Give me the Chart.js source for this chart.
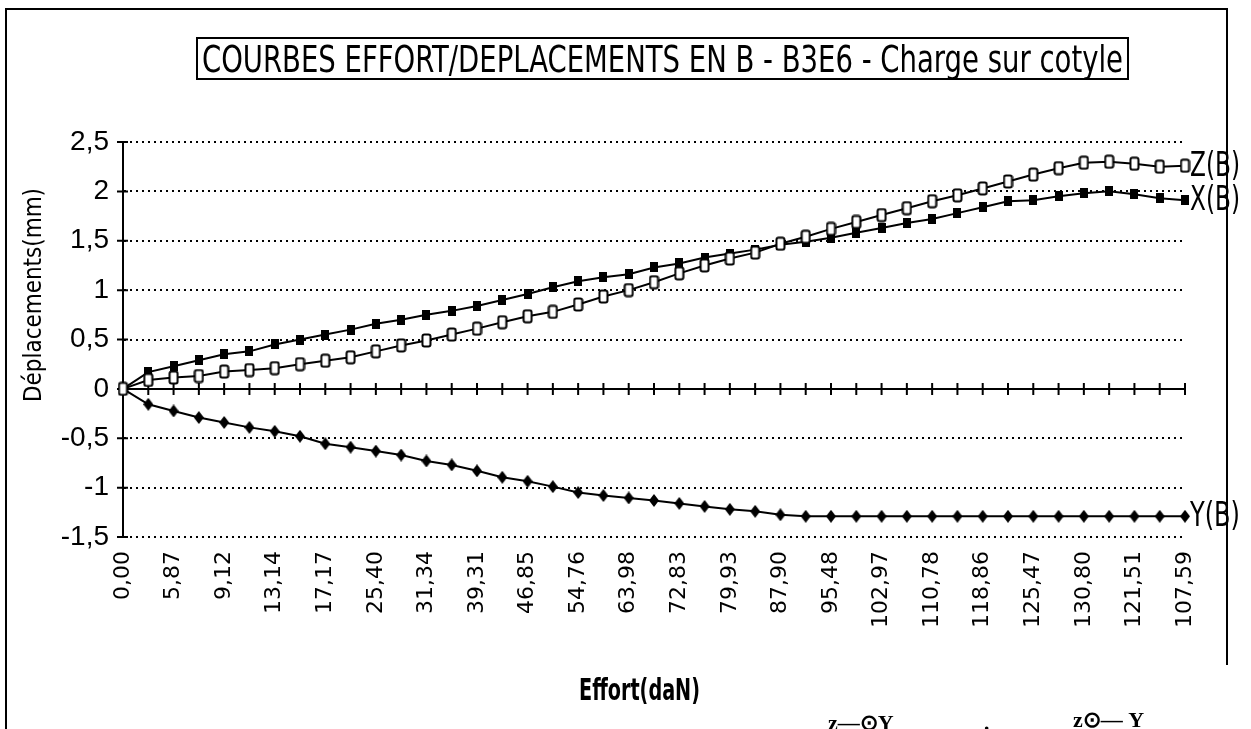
<!DOCTYPE html>
<html>
<head>
<meta charset="utf-8">
<title>Courbes effort/déplacements en B - B3E6</title>
<script src="https://cdn.jsdelivr.net/npm/chart.js@4.4.1/dist/chart.umd.min.js"></script>
<style>
    html, body { margin: 0; padding: 0; background: #fff; }
    #wrap { width: 1251px; height: 729px; }
</style>
</head>
<body>
<div id="wrap"><canvas id="chart" width="1251" height="729"></canvas></div>
<script>
// Effort (daN) - only every other label is printed on the axis
const effortLabels = [
    '0,00', '3,05', '5,87', '7,60', '9,12', '11,20', '13,14', '15,30', '17,17', '21,45',
    '25,40', '28,20', '31,34', '35,60', '39,31', '43,05', '46,85', '50,90', '54,76', '59,50',
    '63,98', '68,30', '72,83', '76,60', '79,93', '83,85', '87,90', '91,70', '95,48', '99,30',
    '102,97', '106,80', '110,78', '114,90', '118,86', '122,10', '125,47', '128,60', '130,80', '127,20',
    '121,51', '114,30', '107,59'
];

// Déplacements (mm)
const zB = [
    0, 0.09, 0.115, 0.13, 0.175, 0.19, 0.21, 0.25, 0.285, 0.32,
    0.38, 0.44, 0.49, 0.55, 0.61, 0.675, 0.735, 0.78, 0.855, 0.935,
    1.00, 1.08, 1.17, 1.25, 1.32, 1.38, 1.47, 1.54, 1.62, 1.69,
    1.76, 1.83, 1.90, 1.96, 2.03, 2.10, 2.17, 2.235, 2.29, 2.30,
    2.28, 2.25, 2.26
];
const xB = [
    0, 0.17, 0.23, 0.29, 0.35, 0.38, 0.45, 0.50, 0.55, 0.60,
    0.66, 0.70, 0.75, 0.79, 0.84, 0.90, 0.96, 1.03, 1.09, 1.13,
    1.16, 1.23, 1.27, 1.33, 1.37, 1.41, 1.46, 1.49, 1.53, 1.58,
    1.63, 1.68, 1.72, 1.78, 1.84, 1.90, 1.91, 1.95, 1.98, 2.00,
    1.97, 1.93, 1.91
];
const yB = [
    0, -0.156, -0.224, -0.29, -0.34, -0.39, -0.43, -0.48, -0.556, -0.59,
    -0.63, -0.67, -0.73, -0.77, -0.83, -0.895, -0.936, -0.99, -1.05, -1.08,
    -1.105, -1.13, -1.16, -1.19, -1.22, -1.24, -1.275, -1.29, -1.29, -1.29,
    -1.29, -1.29, -1.29, -1.29, -1.29, -1.29, -1.29, -1.29, -1.29, -1.29,
    -1.29, -1.29, -1.29
];

const seriesNames = ['Z(B)', 'X(B)', 'Y(B)'];
const yMin = -1.5;
const yMax = 2.5;
const yStep = 0.5;

const chartTitle = 'COURBES EFFORT/DEPLACEMENTS EN B - B3E6 - Charge sur cotyle';
const xTitle = 'Effort(daN)';
const yTitle = 'Déplacements(mm)';

const narrowFont = '"Liberation Sans Narrow", "DejaVu Sans Condensed", "Arial Narrow", sans-serif';

// Marker images (Excel style: open box, filled box, diamond)
function makeMarker(w, h, draw) {
    const c = document.createElement('canvas');
    c.width = w;
    c.height = h;
    draw(c.getContext('2d'), w, h);
    return c;
}

const openBox = makeMarker(11, 15, (g, w, h) => {
    g.fillStyle = '#fff';
    g.strokeStyle = '#000';
    g.lineWidth = 2;
    g.beginPath();
    g.roundRect(1.5, 1.5, w - 3, h - 3, 2);
    g.fill();
    g.stroke();
});

const filledBox = makeMarker(8, 10, (g, w, h) => {
    g.fillStyle = '#000';
    g.fillRect(0, 0, w, h);
});

const diamond = makeMarker(10, 13, (g, w, h) => {
    g.fillStyle = '#000';
    g.beginPath();
    g.moveTo(w / 2, 0);
    g.lineTo(w, h / 2);
    g.lineTo(w / 2, h);
    g.lineTo(0, h / 2);
    g.closePath();
    g.fill();
});

// Draw text squeezed/stretched to a given width
function fitText(ctx, text, x, y, width, font) {
    ctx.save();
    ctx.font = font;
    const w = ctx.measureText(text).width;
    ctx.translate(x, y);
    ctx.scale(width / w, 1);
    ctx.fillText(text, 0, 0);
    ctx.restore();
}

const decorPlugin = {
    id: 'decor',
    beforeDatasetsDraw(chart) {
        const { ctx, chartArea, scales: { x, y } } = chart;
        const y0 = y.getPixelForValue(0);
        ctx.save();
        ctx.strokeStyle = '#000';
        ctx.lineWidth = 2;
        ctx.beginPath();
        // zero line with crossing ticks
        ctx.moveTo(chartArea.left, y0);
        ctx.lineTo(chartArea.right, y0);
        effortLabels.forEach((_, i) => {
            const px = x.getPixelForValue(i);
            ctx.moveTo(px, y0 - 6);
            ctx.lineTo(px, y0 + 6);
        });
        // crossing ticks on value axis
        y.ticks.forEach(t => {
            const py = y.getPixelForValue(t.value);
            ctx.moveTo(chartArea.left - 6, py);
            ctx.lineTo(chartArea.left + 5, py);
        });
        ctx.stroke();
        ctx.restore();
    },
    afterDraw(chart) {
        const { ctx } = chart;
        ctx.save();
        ctx.fillStyle = '#000';
        ctx.strokeStyle = '#000';

        // outer frame (scan cut at bottom)
        ctx.lineWidth = 2;
        ctx.beginPath();
        ctx.moveTo(6, 729);
        ctx.lineTo(6, 9);
        ctx.lineTo(1227, 9);
        ctx.lineTo(1227, 665);
        ctx.stroke();

        // title box
        ctx.strokeRect(197, 38, 931, 41);
        ctx.textBaseline = 'alphabetic';
        ctx.textAlign = 'left';
        fitText(ctx, chartTitle, 202, 72, 921, '38px ' + narrowFont);

        // axis titles
        fitText(ctx, xTitle, 579, 700, 121, 'bold 31px ' + narrowFont);
        ctx.save();
        ctx.translate(41, 402);
        ctx.rotate(-Math.PI / 2);
        fitText(ctx, yTitle, 0, 0, 214, '25px "DejaVu Sans", sans-serif');
        ctx.restore();

        // series names at the end of each curve
        ctx.textBaseline = 'middle';
        chart.data.datasets.forEach((ds, i) => {
            const meta = chart.getDatasetMeta(i);
            const last = meta.data[meta.data.length - 1];
            fitText(ctx, seriesNames[i], last.x + 5, last.y + 1, 50, '34px ' + narrowFont);
        });

        // bits of the neighbouring figure visible at the bottom of the scan
        ctx.textBaseline = 'alphabetic';
        ctx.font = 'bold 22px "Liberation Serif", serif';
        ctx.fillText('z—\u2299Y', 828, 730);
        ctx.fillText('\u00b7', 983, 735);
        ctx.fillText('z\u2299— Y', 1073, 727);
        ctx.restore();
    }
};

Chart.defaults.color = '#000';

new Chart(document.getElementById('chart'), {
    type: 'line',
    data: {
        labels: effortLabels,
        datasets: [
            { label: seriesNames[0], data: zB, pointStyle: openBox },
            { label: seriesNames[1], data: xB, pointStyle: filledBox },
            { label: seriesNames[2], data: yB, pointStyle: diamond }
        ].map(ds => Object.assign(ds, {
            borderColor: '#000',
            borderWidth: 2,
            tension: 0,
            fill: false,
            clip: false,
            pointRadius: 6,
            pointHoverRadius: 6
        }))
    },
    options: {
        responsive: false,
        animation: false,
        events: [],
        layout: {
            padding: { left: 0, right: 66, top: 142, bottom: 0 }
        },
        plugins: {
            legend: { display: false },
            tooltip: { enabled: false }
        },
        scales: {
            x: {
                type: 'category',
                offset: false,
                grid: { display: false },
                border: { display: false },
                ticks: {
                    autoSkip: false,
                    minRotation: 90,
                    maxRotation: 90,
                    padding: 6,
                    color: '#000',
                    font: { family: '"DejaVu Sans", sans-serif', size: 22 },
                    callback: function (value, index) {
                        return index % 2 === 0 ? this.getLabelForValue(value) : '';
                    }
                },
                afterFit: scale => { scale.height = 192; }
            },
            y: {
                min: yMin,
                max: yMax,
                grid: {
                    color: '#000',
                    lineWidth: 2,
                    drawTicks: false
                },
                border: { display: true, color: '#000', width: 2, dash: [2, 4] },
                ticks: {
                    stepSize: yStep,
                    padding: 14,
                    color: '#000',
                    font: { family: '"Liberation Sans", Arial, sans-serif', size: 28 },
                    callback: v => String(v).replace('.', ',')
                },
                afterFit: scale => { scale.width = 123; }
            }
        }
    },
    plugins: [decorPlugin]
});
</script>
</body>
</html>
